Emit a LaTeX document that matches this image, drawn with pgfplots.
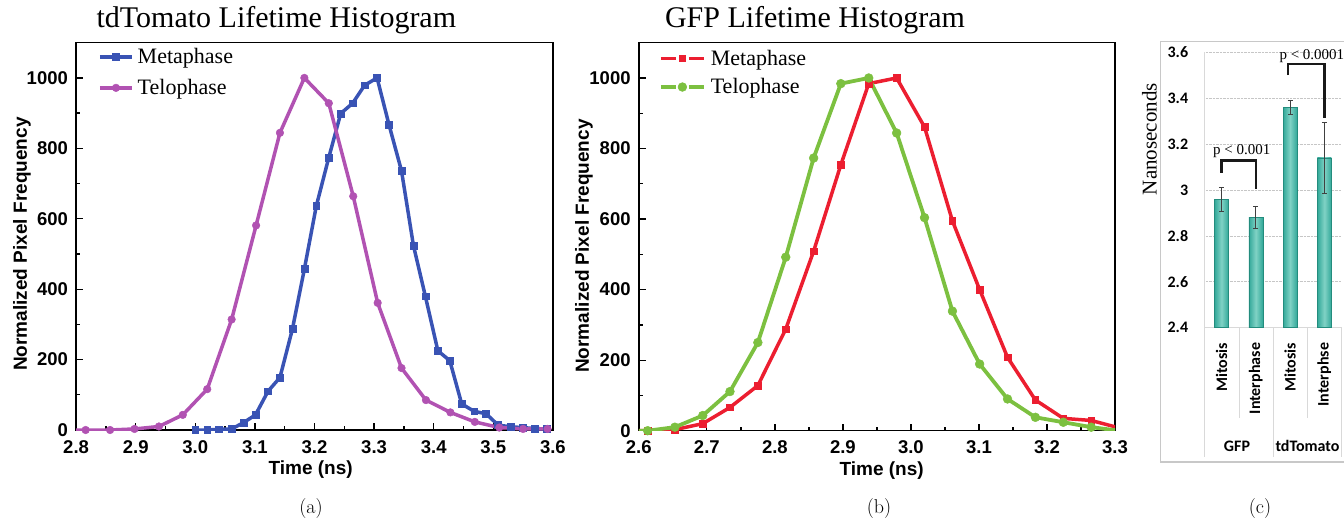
\documentclass[border=0pt]{standalone}
\usepackage{fontspec}
\usepackage{pgfplots}
\pgfplotsset{compat=1.18}
\newfontfamily\tnr{Liberation Serif}
\newfontfamily\arial{Liberation Sans}
\newfontfamily\calibri{Carlito}

\definecolor{cblue}{RGB}{57,83,180}
\definecolor{cmag}{RGB}{177,82,178}
\definecolor{cred}{RGB}{236,30,48}
\definecolor{cgreen}{RGB}{124,192,64}
\definecolor{tealD}{RGB}{50,168,153}
\definecolor{tealL}{RGB}{128,210,197}
\definecolor{tealO}{RGB}{35,140,125}
\definecolor{frame}{RGB}{200,200,200}

% tdTomato histogram
\pgfplotstableread{
t f
3.000 0
3.020 0
3.040 2
3.061 3
3.081 21
3.101 43
3.122 110
3.142 149
3.163 287
3.183 457
3.203 636
3.224 774
3.244 899
3.264 928
3.284 979
3.305 1000
3.325 867
3.346 736
3.366 524
3.386 380
3.407 225
3.427 197
3.447 74
3.468 53
3.488 46
3.508 14
3.529 9
3.549 7
3.569 4
3.590 3
}\tdMeta
\pgfplotstableread{
t f
2.775 0
2.816 0
2.857 0
2.898 3
2.939 10
2.979 43
3.020 116
3.061 314
3.102 581
3.142 844
3.183 1000
3.224 928
3.265 664
3.306 361
3.346 176
3.387 85
3.428 50
3.469 23
3.510 7
3.550 3
3.591 3
}\tdTelo
% GFP histogram
\pgfplotstableread{
t f
2.572 0
2.613 0
2.653 3
2.694 20
2.734 66
2.775 128
2.816 288
2.857 509
2.897 754
2.938 984
2.979 1000
3.020 861
3.061 595
3.101 400
3.142 208
3.183 87
3.224 35
3.265 29
3.306 8
}\gfpMeta
\pgfplotstableread{
t f
2.572 0
2.613 0
2.653 10
2.694 43
2.734 111
2.775 250
2.816 492
2.857 773
2.897 984
2.938 1000
2.979 844
3.020 604
3.061 339
3.101 189
3.142 90
3.183 38
3.224 24
3.265 10
3.306 0
}\gfpTelo
% mean lifetimes
\pgfplotstableread{
x y e
0 2.96 0.053
1 2.88 0.049
2 3.36 0.029
3 3.14 0.156
}\means

\pgfplotsset{
  histo/.style={
    scale only axis, anchor=south west,
    ymin=0, ymax=1100,
    ytick={0,200,400,600,800,1000},
    minor x tick num=1, minor y tick num=1,
    tick align=inside, tick pos=left,
    major tick length=7pt, minor tick length=4pt,
    every tick/.style={black, line width=1.3pt},
    axis line style={line width=1.5pt},
    /pgf/number format/assume math mode=true,
    /pgf/number format/1000 sep={},
    ticklabel style={font=\arial\bfseries\fontsize{18.5}{18.5}\selectfont, inner sep=0pt},
    xticklabel style={/pgf/number format/fixed, /pgf/number format/fixed zerofill, /pgf/number format/precision=1, yshift=-10pt},
    yticklabel style={xshift=-8pt},
    label style={font=\arial\bfseries\fontsize{19}{19}\selectfont},
    xlabel={Time (ns)}, ylabel={Normalized Pixel Frequency},
    title style={font=\tnr\fontsize{30}{30}\selectfont, anchor=base},
    legend cell align=left,
  },
  bar/.style={ybar, bar width=14pt, draw=tealO, line width=0.5pt,
    left color=tealD, right color=tealD, middle color=tealL},
}

\begin{document}
\begin{tikzpicture}

% (a)
\begin{axis}[histo,
  at={(76.1pt,93pt)}, width=476.8pt, height=387.3pt,
  xmin=2.8, xmax=3.6,
  xtick={2.8,2.9,3.0,3.1,3.2,3.3,3.4,3.5,3.6},
  title={tdTomato Lifetime Histogram},
  title style={at={(axis description cs:0.42,1.024)}},
  xlabel style={at={(axis description cs:0.492,-0.103)}, anchor=center},
  ylabel style={at={(axis description cs:-0.1135,0.48)}, anchor=center},
  legend style={at={(axis description cs:0.046,0.985)}, anchor=north west,
    draw=none, fill=none, inner sep=0pt, row sep=14pt, column sep=4pt,
    font=\tnr\fontsize{22}{22}\selectfont, nodes={inner sep=0pt}},
  legend image code/.code={\draw[mark repeat=2, mark phase=2, #1] plot coordinates {(0pt,0pt) (16pt,0pt) (32pt,0pt)};},
]
\addplot[color=cblue, line width=3.5pt, mark=square*, mark size=3.4pt, mark options={line width=0.5pt}] table[x=t, y=f] {\tdMeta};
\addlegendentry{Metaphase}
\addplot[color=cmag, line width=3.5pt, mark=*, mark size=3.8pt, mark options={line width=0.5pt}] table[x=t, y=f] {\tdTelo};
\addlegendentry{Telophase}
\end{axis}

% (b)
\begin{axis}[histo,
  at={(638.8pt,92.3pt)}, width=476.2pt, height=388pt,
  xmin=2.6, xmax=3.3,
  xtick={2.6,2.7,2.8,2.9,3.0,3.1,3.2,3.3},
  title={GFP Lifetime Histogram},
  title style={at={(axis description cs:0.37,1.024)}},
  xlabel style={at={(axis description cs:0.51,-0.102)}, anchor=center},
  ylabel style={at={(axis description cs:-0.115,0.476)}, anchor=center},
  legend style={at={(axis description cs:0.042,0.982)}, anchor=north west,
    draw=none, fill=none, inner sep=0pt, row sep=12pt, column sep=5pt,
    font=\tnr\fontsize{22}{22}\selectfont, nodes={inner sep=0pt}},
  legend image code/.code={
    \draw[#1, mark=none] (0pt,0pt) -- (15pt,0pt);
    \draw[#1, mark=none] (28pt,0pt) -- (43pt,0pt);
    \draw[#1, only marks] plot coordinates {(21.5pt,0pt)};},
]
\addplot[color=cred, line width=3.5pt, mark=square*, mark size=3.3pt, mark options={line width=0.5pt}] table[x=t, y=f] {\gfpMeta};
\addlegendentry{Metaphase}
\addplot[color=cgreen, line width=3.8pt, mark=*, mark size=4.4pt, mark options={line width=0.5pt}] table[x=t, y=f] {\gfpTelo};
\addlegendentry{Telophase}
\end{axis}

% (c) frame and category separators
\draw[frame, line width=1.2pt] (1344pt,481.3pt) -- (1160.7pt,481.3pt) -- (1160.7pt,61pt) -- (1344pt,61pt);
\draw[gray!30, line width=0.9pt] (1204.3pt,195.3pt) -- (1204.3pt,66pt)
  (1239pt,195.3pt) -- (1239pt,105pt)
  (1273.7pt,195.3pt) -- (1273.7pt,66pt)
  (1307.5pt,195.3pt) -- (1307.5pt,105pt)
  (1341.5pt,195.3pt) -- (1341.5pt,66pt);

\begin{axis}[
  at={(1204.3pt,195.3pt)}, anchor=south west, scale only axis,
  width=137.2pt, height=275.4pt,
  xmin=-0.5, xmax=3.5, ymin=2.4, ymax=3.6,
  xtick={0,1,2,3}, xticklabels={Mitosis,Interphase,Mitosis,Interphse},
  ytick={2.4,2.6,2.8,3,3.2,3.4,3.6},
  major tick length=0pt,
  axis x line*=bottom, axis y line*=left,
  axis line style={-, gray!30, line width=0.9pt},
  ymajorgrids, major grid style={densely dotted, gray!45, line width=0.8pt},
  clip mode=individual,
  /pgf/number format/assume math mode=true,
  yticklabel style={/pgf/number format/fixed, /pgf/number format/precision=1,
    font=\calibri\bfseries\fontsize{16}{16}\selectfont, inner sep=0pt, xshift=-16pt},
  xticklabel style={rotate=90, anchor=east, inner sep=0pt,
    font=\calibri\bfseries\fontsize{16}{16}\selectfont},
  xticklabel shift=15pt,
  ylabel={Nanoseconds},
  ylabel style={at={(axis description cs:-0.40,0.685)}, anchor=center,
    font=\tnr\fontsize{21}{21}\selectfont},
]
% one plot per bar so that each bar gets its own shading
\addplot[bar] table[x=x, y=y, restrict expr to domain={\coordindex}{0:0}] {\means};
\addplot[bar] table[x=x, y=y, restrict expr to domain={\coordindex}{1:1}] {\means};
\addplot[bar] table[x=x, y=y, restrict expr to domain={\coordindex}{2:2}] {\means};
\addplot[bar] table[x=x, y=y, restrict expr to domain={\coordindex}{3:3}] {\means};
\addplot[draw=none, mark=none,
  error bars/.cd, y dir=both, y explicit,
  error bar style={draw=black!75, line width=0.7pt},
  error mark options={rotate=90, mark size=2.5pt, draw=black!75, line width=0.7pt}]
  table[x=x, y=y, y error=e] {\means};
\draw[line width=2.3pt, black!90, line join=miter] (axis cs:0,3.075) |- (axis cs:1,3.128) -- (axis cs:1,3.003);
\draw[line width=2.3pt, black!90, line join=miter] (axis cs:1.93,3.501) |- (axis cs:3,3.548) -- (axis cs:3,3.312);
\node[font=\tnr\fontsize{15}{15}\selectfont, inner sep=0pt] at (axis cs:0.59,3.171) {p < 0.001};
\node[font=\tnr\fontsize{15}{15}\selectfont, inner sep=0pt, anchor=west] at (axis cs:1.687,3.584) {p < 0.0001};
\node[font=\calibri\bfseries\fontsize{16}{16}\selectfont] at (axis cs:0.453,1.885) {GFP};
\node[font=\calibri\bfseries\fontsize{16}{16}\selectfont] at (axis cs:2.509,1.885) {tdTomato};
\end{axis}

% sub-figure captions
\node[font=\fontsize{20}{20}\selectfont] at (311pt,14pt) {(a)};
\node[font=\fontsize{20}{20}\selectfont] at (879pt,14pt) {(b)};
\node[font=\fontsize{20}{20}\selectfont] at (1260pt,14pt) {(c)};

\pgfresetboundingbox
\useasboundingbox (0,0) rectangle (1344pt,523pt);
\end{tikzpicture}
\end{document}
